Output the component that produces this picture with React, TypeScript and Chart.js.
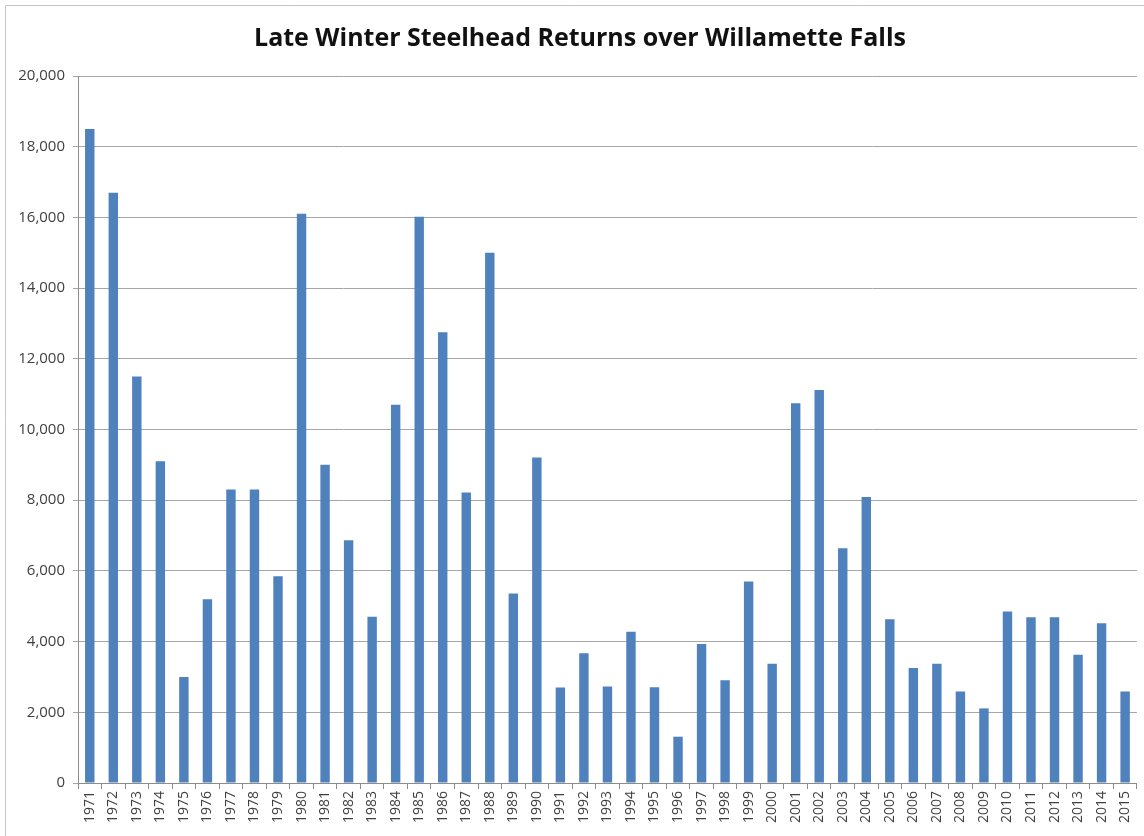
import React, { useEffect, useRef } from "react";
import { Chart, registerables } from "chart.js";

Chart.register(...registerables);

const TITLE = "Late Winter Steelhead Returns over Willamette Falls";

const YEARS: string[] = [
  "1971", "1972", "1973", "1974", "1975", "1976", "1977", "1978", "1979", "1980",
  "1981", "1982", "1983", "1984", "1985", "1986", "1987", "1988", "1989", "1990",
  "1991", "1992", "1993", "1994", "1995", "1996", "1997", "1998", "1999", "2000",
  "2001", "2002", "2003", "2004", "2005", "2006", "2007", "2008", "2009", "2010",
  "2011", "2012", "2013", "2014", "2015",
];

const RETURNS: number[] = [
  18500, 16700, 11500, 9100, 3000, 5200, 8300, 8300, 5850, 16100,
  9000, 6870, 4700, 10700, 16020, 12750, 8220, 15000, 5360, 9210,
  2700, 3670, 2730, 4280, 2710, 1310, 3930, 2910, 5700, 3370,
  10740, 11120, 6640, 8090, 4630, 3250, 3370, 2590, 2110, 4850,
  4690, 4690, 3630, 4520, 2590,
];

const Y_MIN = 0;
const Y_MAX = 20000;
const Y_STEP = 2000;

const FONT = "'Open Sans', 'Liberation Sans', sans-serif";

const frame = {
  id: "frame",
  beforeDraw(chart: any) {
    const ctx = chart.ctx;
    ctx.save();
    ctx.fillStyle = "#ffffff";
    ctx.fillRect(0, 0, chart.width, chart.height);
    ctx.strokeStyle = "#c4c4c4";
    ctx.lineWidth = 1;
    ctx.beginPath();
    ctx.moveTo(5.5, chart.height);
    ctx.lineTo(5.5, 5.5);
    ctx.lineTo(chart.width, 5.5);
    ctx.stroke();
    ctx.restore();
  },
  afterDraw(chart: any) {
    const ctx = chart.ctx;
    ctx.save();
    ctx.fillStyle = "#111111";
    ctx.font = `bold 25px ${FONT}`;
    ctx.textAlign = "center";
    ctx.textBaseline = "middle";
    ctx.fillText(TITLE, 580, 39);
    ctx.restore();
  },
};

export default function App() {
  const ref = useRef<HTMLCanvasElement | null>(null);

  useEffect(() => {
    if (!ref.current) return;
    const chart = new Chart(ref.current, {
      type: "bar",
      data: {
        labels: YEARS,
        datasets: [
          {
            label: "Returns",
            data: RETURNS,
            backgroundColor: "#4f81bd",
            borderWidth: 0,
            barPercentage: 0.4,
            categoryPercentage: 1,
          },
        ],
      },
      options: {
        animation: false,
        responsive: true,
        maintainAspectRatio: false,
        layout: { padding: { left: 5, right: 7, top: 76, bottom: 0 } },
        plugins: {
          legend: { display: false },
          tooltip: { enabled: false },
          title: { display: false },
        },
        scales: {
          x: {
            afterFit: (s: any) => {
              s.height = 53;
            },
            grid: {
              drawOnChartArea: false,
              drawTicks: true,
              tickLength: 6,
              color: "#8c8c8c",
              offset: true,
            },
            border: { display: true, color: "#8c8c8c" },
            ticks: {
              autoSkip: false,
              minRotation: 90,
              maxRotation: 90,
              padding: 2,
              color: "#404040",
              font: { family: FONT, size: 14 },
            },
          },
          y: {
            min: Y_MIN,
            max: Y_MAX,
            afterFit: (s: any) => {
              s.width = 73;
            },
            grid: {
              color: "#a6a6a6",
              drawTicks: true,
              tickLength: 5,
            },
            border: { display: true, color: "#8c8c8c" },
            ticks: {
              stepSize: Y_STEP,
              padding: 8,
              color: "#404040",
              font: { family: FONT, size: 15 },
              callback: (v: any) => Number(v).toLocaleString("en-US"),
            },
          },
        },
      },
      plugins: [frame],
    });
    return () => chart.destroy();
  }, []);

  return (
    <div style={{ position: "absolute", left: 0, top: 0, width: 1144, height: 836, background: "#fff" }}>
      <canvas ref={ref} />
    </div>
  );
}
